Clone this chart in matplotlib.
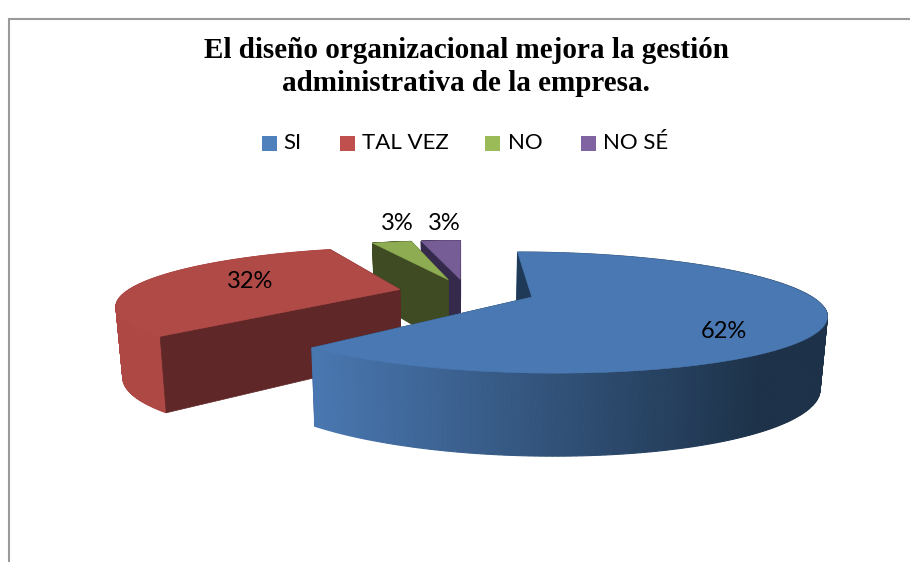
import numpy as np
import matplotlib
matplotlib.use('Agg')
import matplotlib.pyplot as plt
from matplotlib.patches import Polygon, Rectangle

plt.rcParams['font.family'] = ['Lato', 'DejaVu Sans']

title = 'El diseño organizacional mejora la gestión\nadministrativa de la empresa.'
categories = ['SI', 'TAL VEZ', 'NO', 'NO SÉ']
values = [62, 32, 3, 3]

top_colors = ['#4a78b2', '#b04a47', '#8eac52', '#765d95']
wall_colors = ['#1f3a57', '#5f2727', '#3f4b22', '#352a4b']
side_colors = ['#4a78b2', '#ae4845', '#3f4b22', '#352a4b']
legend_colors = ['#4f81bd', '#c0504d', '#9bbb59', '#8064a2']

# pixel positions of text
label_pos = [(724, 332), (250, 281), (397, 223), (444, 223)]
legend_box_x = [262, 340, 485, 581]
legend_text_x = [283, 362, 508, 603]

# projection of the pie plane to pixels
xv, cy = 462, 292
d = 4.5
rx, ry = 274, 54
k = 0.25
explode = 0.25


def project(a, b):
    s = 1 / (1 + k * b)
    return xv + (rx * a + d) * s, cy - ry * b * s


def drop(x, y, a, b):
    # same point on the lower face of the pie
    s = 1 / (1 + k * b)
    return xv + (x - xv) * 0.98, y + 29 + 39.3 * s


def blend(c1, c2, t):
    c1 = np.array(matplotlib.colors.to_rgb(c1))
    c2 = np.array(matplotlib.colors.to_rgb(c2))
    return tuple(c1 + (c2 - c1) * t)


fig = plt.figure(figsize=(9.1, 5.62), dpi=100)
ax = fig.add_axes([0, 0, 1, 1])
ax.set_xlim(0, 910)
ax.set_ylim(562, 0)
ax.axis('off')

# chart frame
ax.plot([8.5, 8.5, 910], [562, 18.5, 18.5], color='#9a9a9a', lw=1.5, solid_joinstyle='miter')

ends = np.cumsum(values) / np.sum(values) * 2 * np.pi
starts = np.concatenate([[0], ends[:-1]])

# painted back to front
for i in [3, 2, 1, 0]:
    t0, t1 = starts[i], ends[i]
    mid = (t0 + t1) / 2
    oa, ob = explode * np.sin(mid), explode * np.cos(mid)
    th = np.linspace(t0, t1, 240)
    a = oa + np.sin(th)
    b = ob + np.cos(th)
    x, y = project(a, b)
    ax_, ay_ = project(oa, ob)
    lx, ly = drop(x, y, a, b)
    alx, aly = drop(ax_, ay_, oa, ob)

    # hidden wall at the end of the slice
    wall = [(ax_, ay_), (x[-1], y[-1]), (lx[-1], ly[-1]), (alx, aly)]
    ax.add_patch(Polygon(wall, closed=True, fc=wall_colors[i], ec=wall_colors[i], lw=0.5))

    # outer side, cut in small strips so blue can carry its shading
    for j in range(len(th) - 1):
        quad = [(x[j], y[j]), (x[j + 1], y[j + 1]), (lx[j + 1], ly[j + 1]), (lx[j], ly[j])]
        if i == 0:
            col = blend('#4a78b2', '#1d3249', np.clip((x[j] - 310) / 455, 0, 1))
        else:
            col = side_colors[i]
        ax.add_patch(Polygon(quad, closed=True, fc=col, ec=col, lw=0.8))

    # visible wall at the start of the slice
    wall = [(ax_, ay_), (x[0], y[0]), (lx[0], ly[0]), (alx, aly)]
    ax.add_patch(Polygon(wall, closed=True, fc=wall_colors[i], ec=wall_colors[i], lw=0.5))

    top = np.column_stack([np.r_[ax_, x], np.r_[ay_, y]])
    ax.add_patch(Polygon(top, closed=True, fc=top_colors[i], ec=top_colors[i], lw=0.4))

ax.text(466, 67, title, ha='center', va='center', fontsize=21, fontweight='bold',
        family='Liberation Serif', linespacing=1.24)

for i, cat in enumerate(categories):
    ax.add_patch(Rectangle((legend_box_x[i], 136), 15, 15, fc=legend_colors[i], ec='none'))
    ax.text(legend_text_x[i], 143, cat, ha='left', va='center', fontsize=16, color='black')

for v, (px, py) in zip(values, label_pos):
    ax.text(px, py, f'{v}%', ha='center', va='center', fontsize=17, color='black')

fig.savefig('out.png', dpi=100)
